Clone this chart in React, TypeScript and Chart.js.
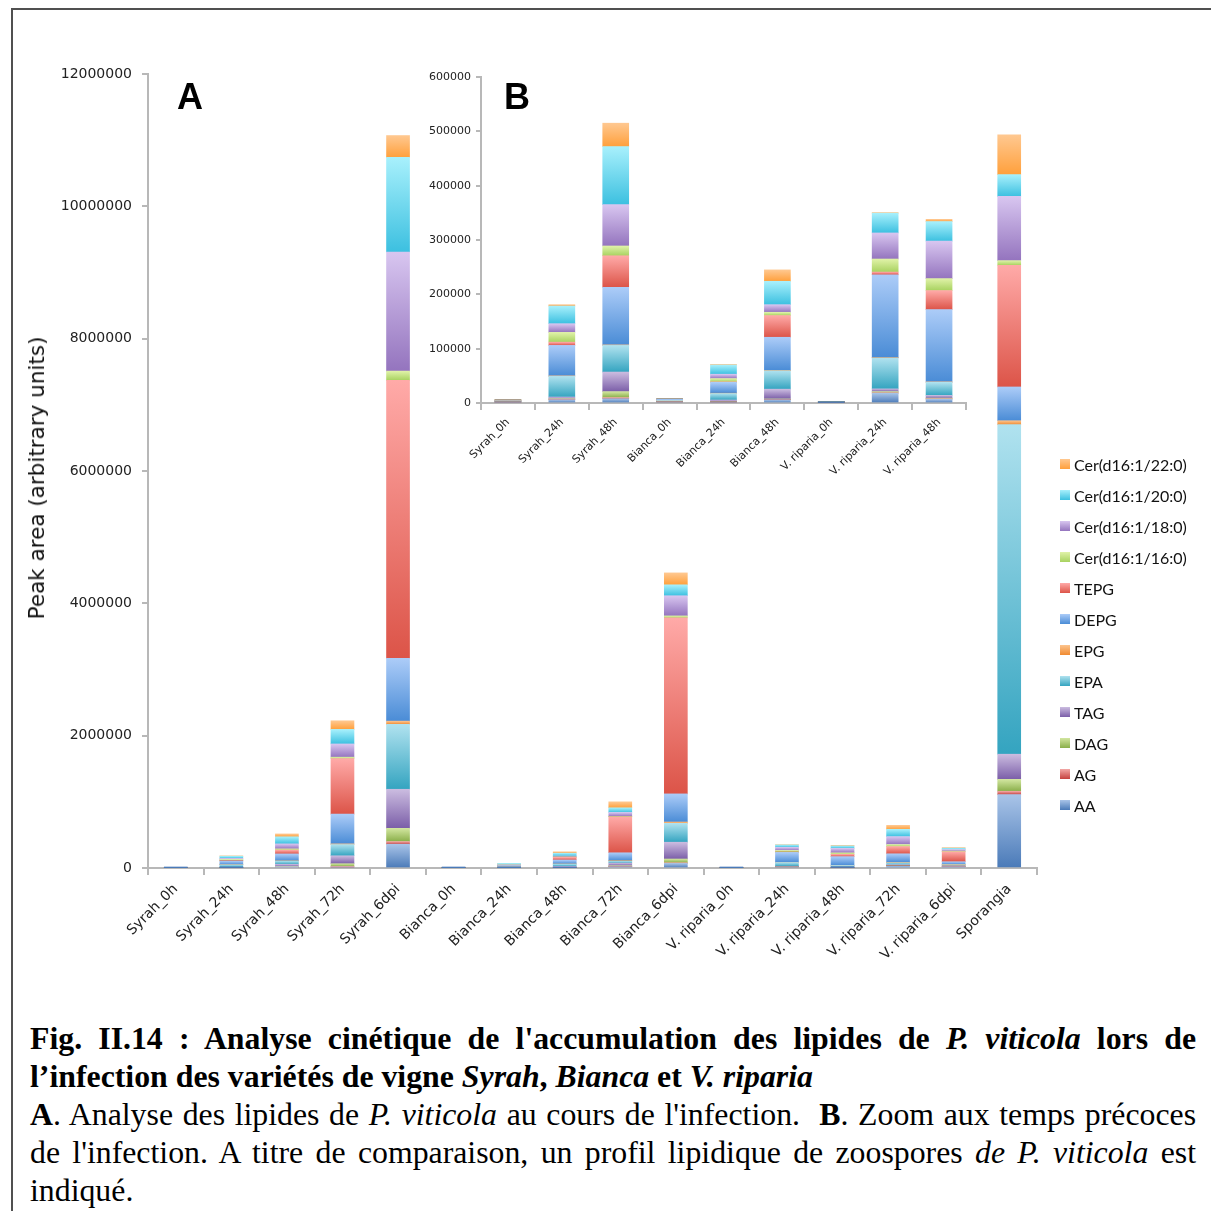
import React, { useEffect, useRef } from "react";
import { Chart, registerables } from "chart.js";
Chart.register(...registerables);

const categories = [
  "Syrah_0h", "Syrah_24h", "Syrah_48h", "Syrah_72h", "Syrah_6dpi",
  "Bianca_0h", "Bianca_24h", "Bianca_48h", "Bianca_72h", "Bianca_6dpi",
  "V. riparia_0h", "V. riparia_24h", "V. riparia_48h", "V. riparia_72h", "V. riparia_6dpi",
  "Sporangia",
];
const insetIndices = [0, 1, 2, 5, 6, 7, 10, 11, 12];

const seriesNames = [
  "AA", "AG", "DAG", "TAG", "EPA", "EPG", "DEPG", "TEPG",
  "Cer(d16:1/16:0)", "Cer(d16:1/18:0)", "Cer(d16:1/20:0)", "Cer(d16:1/22:0)",
];

const AA = [1500, 6000, 8000, 15000, 360000, 2000, 1500, 6000, 20000, 70000, 800, 18000, 7000, 30000, 20000, 1110000];
const AG = [300, 1000, 2000, 10000, 40000, 300, 500, 500, 5000, 10000, 100, 1000, 1000, 5000, 5000, 50000];
const DAG = [300, 1000, 11000, 40000, 200000, 300, 500, 1000, 10000, 56000, 100, 2000, 1000, 5000, 5000, 180000];
const TAG = [500, 3000, 36000, 120000, 590000, 500, 3000, 18000, 40000, 254000, 200, 5000, 5000, 10000, 10000, 380000];
const EPA = [1000, 38000, 49000, 170000, 980000, 1500, 12000, 34000, 30000, 285000, 800, 57000, 24000, 30000, 10000, 4980000];
const EPG = [200, 1000, 1000, 10000, 50000, 200, 500, 500, 5000, 20000, 100, 500, 1000, 5000, 5000, 60000];
const DEPG = [1000, 56000, 106000, 450000, 950000, 2000, 20000, 61000, 120000, 425000, 500, 152500, 133000, 130000, 40000, 510000];
const TEPG = [300, 6000, 58000, 840000, 4200000, 300, 1000, 40000, 545000, 2660000, 100, 5000, 35000, 110000, 150000, 1840000];
const CER16 = [100, 18000, 18000, 20000, 140000, 100, 6000, 6000, 5000, 30000, 50, 24000, 22000, 30000, 10000, 70000];
const CER18 = [300, 16000, 76000, 200000, 1800000, 200, 8000, 14000, 60000, 305000, 100, 48000, 69000, 120000, 25000, 970000];
const CER20 = [200, 32500, 107000, 220000, 1430000, 300, 17000, 43000, 70000, 165000, 100, 36500, 36000, 110000, 20000, 330000];
const CER22 = [800, 2500, 43000, 130000, 330000, 200, 500, 21000, 90000, 180000, 50, 500, 4000, 60000, 10000, 600000];

const seriesValues = [AA, AG, DAG, TAG, EPA, EPG, DEPG, TEPG, CER16, CER18, CER20, CER22];

const colorTop = [
  "#a9c4e8", "#f2a8a6", "#d2e6a0", "#cbbce0", "#b0e2ef", "#fcc48e",
  "#acccf8", "#ffaaa8", "#e0f2a8", "#d8c6f0", "#a8f0fc", "#ffc890",
];
const colorBottom = [
  "#4a7ab8", "#c6423f", "#8aaf4a", "#7b5ea8", "#34a4c0", "#f08a30",
  "#4a8cd6", "#dc5448", "#a8d260", "#9474be", "#3cc0e0", "#ffa03c",
];

const mainTickMax = 12000000;
const mainTickStep = 2000000;
const insetTickMax = 600000;
const insetTickStep = 100000;
const yAxisTitle = "Peak area (arbitrary units)";

const AXIS = "#b8b8b8";
const TICKFONT = "'DejaVu Sans', sans-serif";

function makeBg(seriesIdx: number, indices: number[]) {
  return (ctx: any) => {
    const chart = ctx.chart;
    const yScale = chart.scales && chart.scales.y;
    if (!chart.chartArea || !yScale || ctx.type !== "data") return colorBottom[seriesIdx];
    const cat = indices[ctx.dataIndex];
    let start = 0;
    for (let s = 0; s < seriesIdx; s++) start += seriesValues[s][cat];
    const end = start + seriesValues[seriesIdx][cat];
    const y0 = yScale.getPixelForValue(end);
    const y1 = yScale.getPixelForValue(start);
    if (!isFinite(y0) || !isFinite(y1) || Math.abs(y1 - y0) < 0.5) return colorBottom[seriesIdx];
    const g = chart.ctx.createLinearGradient(0, y0, 0, y1);
    g.addColorStop(0, colorTop[seriesIdx]);
    g.addColorStop(1, colorBottom[seriesIdx]);
    return g;
  };
}

function buildConfig(opts: {
  indices: number[];
  barThickness: number;
  max: number;
  step: number;
  pad: { left: number; top: number; right: number; bottom: number };
  yWidth: number;
  xHeight: number;
  yFont: number;
  xFont: number;
  yTickLen: number;
  yPad: number;
  xPad: number;
}): any {
  const labels = opts.indices.map((i) => categories[i]);
  return {
    type: "bar",
    data: {
      labels,
      datasets: seriesNames.map((n, si) => ({
        label: n,
        data: opts.indices.map((i) => seriesValues[si][i]),
        backgroundColor: makeBg(si, opts.indices),
        borderWidth: 0,
        barThickness: opts.barThickness,
      })),
    },
    options: {
      responsive: false,
      animation: false,
      layout: { padding: opts.pad },
      plugins: { legend: { display: false }, tooltip: { enabled: false } },
      scales: {
        x: {
          stacked: true,
          grid: { drawOnChartArea: false, drawTicks: true, tickLength: 7, color: AXIS, lineWidth: 2, offset: true },
          border: { color: AXIS, width: 2 },
          ticks: {
            autoSkip: false,
            minRotation: 45,
            maxRotation: 45,
            padding: opts.xPad,
            color: "#222",
            font: { family: TICKFONT, size: opts.xFont },
          },
          afterFit: (s: any) => {
            s.height = opts.xHeight;
          },
        },
        y: {
          stacked: true,
          min: 0,
          max: opts.max,
          grid: { drawOnChartArea: false, drawTicks: true, tickLength: opts.yTickLen, color: AXIS, lineWidth: 2 },
          border: { color: AXIS, width: 2 },
          ticks: {
            stepSize: opts.step,
            padding: opts.yPad,
            color: "#222",
            font: { family: TICKFONT, size: opts.yFont },
            callback: (v: any) => String(v),
          },
          afterFit: (s: any) => {
            s.width = opts.yWidth;
          },
        },
      },
    },
  };
}

const legendOrder = [11, 10, 9, 8, 7, 6, 5, 4, 3, 2, 1, 0];

export default function App() {
  const mainRef = useRef<HTMLCanvasElement>(null);
  const insetRef = useRef<HTMLCanvasElement>(null);

  useEffect(() => {
    const main = new Chart(
      mainRef.current as HTMLCanvasElement,
      buildConfig({
        indices: categories.map((_, i) => i),
        barThickness: 23,
        max: mainTickMax,
        step: mainTickStep,
        pad: { left: 0, top: 74, right: 174, bottom: 0 },
        yWidth: 148,
        xHeight: 132,
        yFont: 14,
        xFont: 14,
        yTickLen: 6,
        yPad: 10,
        xPad: 6,
      })
    );
    const inset = new Chart(
      insetRef.current as HTMLCanvasElement,
      buildConfig({
        indices: insetIndices,
        barThickness: 26,
        max: insetTickMax,
        step: insetTickStep,
        pad: { left: 0, top: 27, right: 34, bottom: 0 },
        yWidth: 81,
        xHeight: 107,
        yFont: 11,
        xFont: 11,
        yTickLen: 5,
        yPad: 5,
        xPad: 6,
      })
    );
    return () => {
      main.destroy();
      inset.destroy();
    };
  }, []);

  const serif = "'Liberation Serif', 'Times New Roman', serif";
  const lineStyle = (justify: boolean): React.CSSProperties => ({
    textAlign: justify ? "justify" : "left",
    textAlignLast: justify ? "justify" : "left",
    whiteSpace: "nowrap",
    height: 38,
  });

  return (
    <div
      style={{
        position: "fixed",
        left: 0,
        top: 0,
        width: 1211,
        height: 1211,
        overflow: "hidden",
        background: "#fff",
      }}
    >
      <div
        style={{
          position: "absolute",
          left: 11,
          top: 8,
          width: 1300,
          height: 1300,
          border: "2px solid #505050",
          boxSizing: "border-box",
        }}
      />
      <canvas
        ref={mainRef}
        width={1211}
        height={1000}
        style={{ position: "absolute", left: 0, top: 0, width: 1211, height: 1000 }}
      />
      <canvas
        ref={insetRef}
        width={600}
        height={460}
        style={{ position: "absolute", left: 400, top: 50, width: 600, height: 460 }}
      />
      <div
        style={{
          position: "absolute",
          left: 37,
          top: 478,
          transform: "translate(-50%, -50%) rotate(-90deg)",
          fontFamily: TICKFONT,
          fontSize: 21.5,
          lineHeight: "24px",
          color: "#111",
          whiteSpace: "nowrap",
        }}
      >
        {yAxisTitle}
      </div>
      <div
        style={{
          position: "absolute",
          left: 177,
          top: 79,
          fontFamily: "'Liberation Sans', Arial, sans-serif",
          fontWeight: "bold",
          fontSize: 36,
          lineHeight: "36px",
        }}
      >
        A
      </div>
      <div
        style={{
          position: "absolute",
          left: 504,
          top: 79,
          fontFamily: "'Liberation Sans', Arial, sans-serif",
          fontWeight: "bold",
          fontSize: 36,
          lineHeight: "36px",
        }}
      >
        B
      </div>
      <div style={{ position: "absolute", left: 1060, top: 449 }}>
        {legendOrder.map((si) => (
          <div key={si} style={{ display: "flex", alignItems: "center", height: 31 }}>
            <div
              style={{
                width: 10,
                height: 10,
                marginRight: 4,
                marginTop: -2,
                background: `linear-gradient(${colorTop[si]}, ${colorBottom[si]})`,
              }}
            />
            <span
              style={{
                fontFamily: "Lato, 'Open Sans', sans-serif",
                fontSize: 16,
                color: "#111",
                lineHeight: "20px",
              }}
            >
              {seriesNames[si]}
            </span>
          </div>
        ))}
      </div>
      <div
        style={{
          position: "absolute",
          left: 30,
          top: 1020,
          width: 1166,
          fontFamily: serif,
          fontSize: 31.8,
          lineHeight: "38px",
          color: "#000",
        }}
      >
        <div style={{ ...lineStyle(true), fontWeight: "bold" }}>
          Fig. II.14 : Analyse cinétique de l'accumulation des lipides de <i>P. viticola</i> lors de
        </div>
        <div style={{ ...lineStyle(false), fontWeight: "bold" }}>
          l’infection des variétés de vigne <i>Syrah</i>, <i>Bianca</i> et <i>V. riparia</i>
        </div>
        <div style={lineStyle(true)}>
          <b>A</b>. Analyse des lipides de <i>P. viticola</i> au cours de l'infection.&nbsp; <b>B</b>. Zoom aux temps
          précoces
        </div>
        <div style={lineStyle(true)}>
          de l'infection. A titre de comparaison, un profil lipidique de zoospores <i>de P. viticola</i> est
        </div>
        <div style={lineStyle(false)}>indiqué.</div>
      </div>
    </div>
  );
}
